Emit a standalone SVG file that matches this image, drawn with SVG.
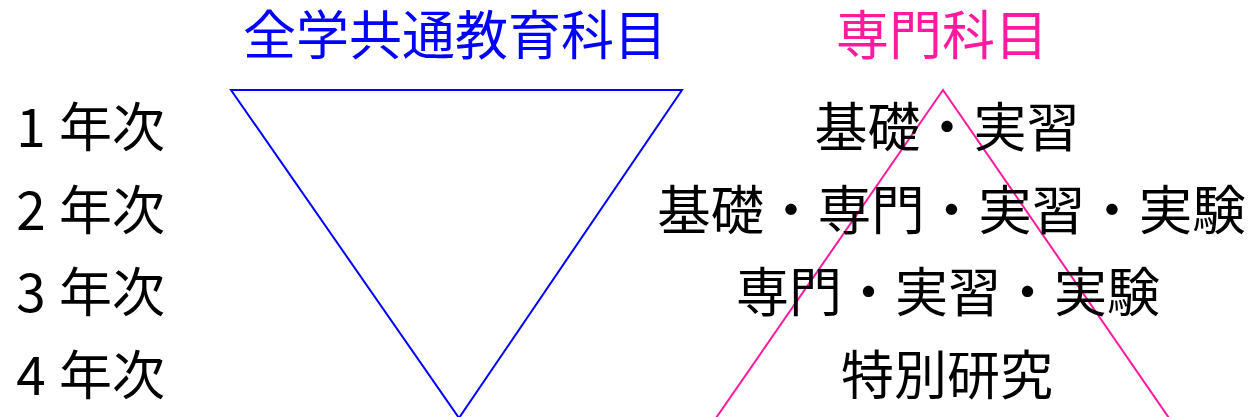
<svg xmlns="http://www.w3.org/2000/svg" width="1249" height="417" viewBox="0 0 1249 417">
<style>
text{font-family:"Noto Sans CJK JP","Noto Sans CJK SC",sans-serif;font-size:53px;fill:#000}
.ttl-b{fill:#0000ff}
.ttl-p{fill:#ff1aa0}
.mid{text-anchor:middle}
.tri{fill:none;stroke-width:2;stroke-linejoin:miter}
</style>
<rect width="1249" height="417" fill="#fff"/>
<g id="connectors">
<polygon id="general-triangle" class="tri" stroke="#0000ff" points="231,90 682,90 459,418"/>
<polygon id="major-triangle" class="tri" stroke="#ff1aa0" points="943,90 716,418 1169,418"/>
</g>
<g id="title-general"><text class="ttl-b mid" x="455" y="55">全学共通教育科目</text></g>
<g id="title-major"><text class="ttl-p mid" x="942" y="55">専門科目</text></g>
<g id="years">
<g id="y1"><text class="mid" x="31" y="147">1</text><text x="59" y="147">年次</text></g>
<g id="y2"><text class="mid" x="31" y="229.5">2</text><text x="59" y="229.5">年次</text></g>
<g id="y3"><text class="mid" x="31" y="312">3</text><text x="59" y="312">年次</text></g>
<g id="y4"><text class="mid" x="31" y="395">4</text><text x="59" y="395">年次</text></g>
</g>
<g id="row1"><text class="mid" x="947" y="147">基礎・実習</text></g>
<g id="row2"><text class="mid" x="951.5" y="229.5" style="font-size:53.5px">基礎・専門・実習・実験</text></g>
<g id="row3"><text class="mid" x="948" y="312">専門・実習・実験</text></g>
<g id="row4"><text class="mid" x="947" y="395">特別研究</text></g>
</svg>
